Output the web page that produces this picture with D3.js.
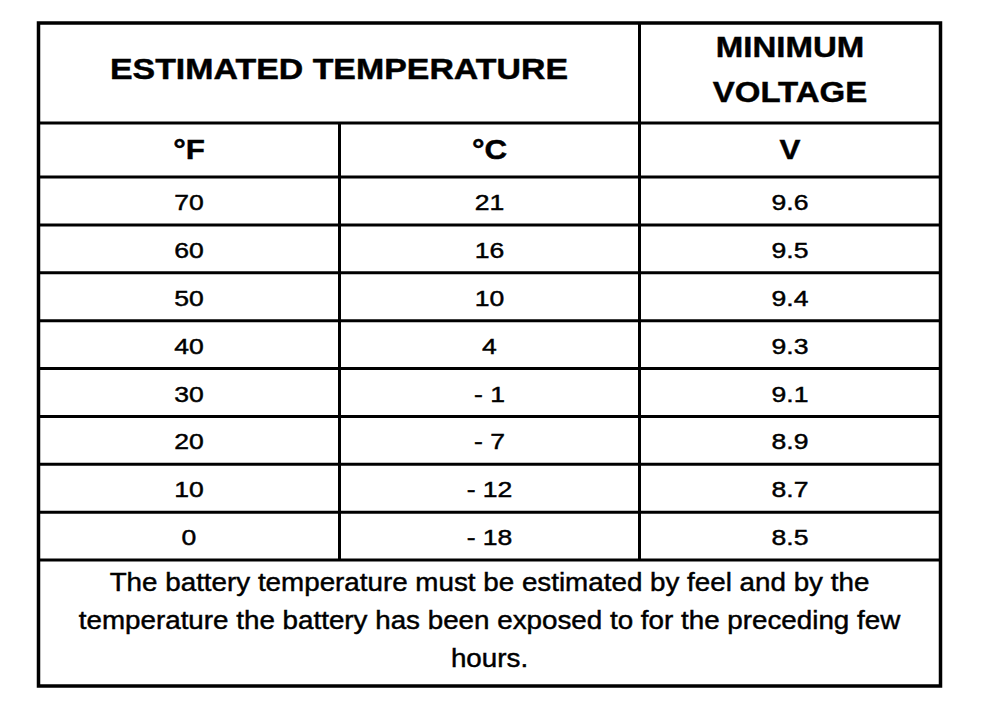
<!DOCTYPE html>
<html>
<head>
<meta charset="utf-8">
<script src="https://cdn.jsdelivr.net/npm/d3@7.9.0/dist/d3.min.js"></script>
<style>
  html, body { margin: 0; padding: 0; background: #fff; }
  svg { display: block; }
  text { font-family: "Liberation Sans", Arial, sans-serif; fill: #000; stroke: #000; stroke-width: 0.45; }
</style>
</head>
<body>
<svg id="chart" width="992" height="714"></svg>
<script>
// table content
const headerTop = ['ESTIMATED TEMPERATURE', 'MINIMUM VOLTAGE'];
const unitLabels = ['°F', '°C', 'V'];
const fahrenheit = ['70', '60', '50', '40', '30', '20', '10', '0'];
const celsius = ['21', '16', '10', '4', '- 1', '- 7', '- 12', '- 18'];
const voltage = ['9.6', '9.5', '9.4', '9.3', '9.1', '8.9', '8.7', '8.5'];
const footnote = [
  'The battery temperature must be estimated by feel and by the',
  'temperature the battery has been exposed to for the preceding few',
  'hours.'
];

const svg = d3.select('#chart');

// layout of the grid
const gridLeft = 38.5, gridRight = 940.5;
const colEdges = [gridLeft, 339.5, 639.5, gridRight];
const gridTop = 23, headBottom = 123, unitBottom = 177, dataBottom = 560, gridBottom = 686;

const rowY = d3.scaleLinear().domain([0, fahrenheit.length]).range([unitBottom, dataBottom]);
const colMid = i => (colEdges[i] + colEdges[i + 1]) / 2;

const lineW = 3;
const g = svg.append('g');

// horizontal rules
const hRules = [headBottom, unitBottom];
d3.range(1, fahrenheit.length + 1).forEach(i => hRules.push(rowY(i)));
g.selectAll('line.h').data(hRules).join('line')
  .attr('class', 'h')
  .attr('x1', gridLeft).attr('x2', gridRight)
  .attr('y1', d => d).attr('y2', d => d)
  .attr('stroke', '#000').attr('stroke-width', lineW);

// vertical rules
g.append('line') // °F | °C divider, below header only
  .attr('x1', colEdges[1]).attr('x2', colEdges[1])
  .attr('y1', headBottom).attr('y2', dataBottom)
  .attr('stroke', '#000').attr('stroke-width', lineW);
g.append('line') // temperature | voltage divider
  .attr('x1', colEdges[2]).attr('x2', colEdges[2])
  .attr('y1', gridTop).attr('y2', dataBottom)
  .attr('stroke', '#000').attr('stroke-width', lineW);

// outer border
g.append('rect')
  .attr('x', gridLeft).attr('y', gridTop)
  .attr('width', gridRight - gridLeft).attr('height', gridBottom - gridTop)
  .attr('fill', 'none').attr('stroke', '#000').attr('stroke-width', 3.5);

// text helper: centered, slightly stretched horizontally like the scan
function label(txt, cx, baseline, size, weight, sx) {
  svg.append('text')
    .attr('transform', `translate(${cx},${baseline}) scale(${sx},1)`)
    .attr('text-anchor', 'middle')
    .attr('font-size', size)
    .attr('font-weight', weight)
    .text(txt);
}

// header
label(headerTop[0], (colEdges[0] + colEdges[2]) / 2, 79, 30, 'bold', 1.13);
const volt = headerTop[1].split(' ');
label(volt[0], colMid(2), 57, 30, 'bold', 1.1);
label(volt[1], colMid(2), 102, 30, 'bold', 1.1);

// units row
unitLabels.forEach((u, i) => label(u, colMid(i), 159, 28, 'bold', 1.12));

// data rows
[fahrenheit, celsius, voltage].forEach((col, ci) => {
  col.forEach((v, ri) => label(v, colMid(ci), rowY(ri) + 33, 22.5, 'normal', 1.18));
});

// footnote
footnote.forEach((t, i) => label(t, (gridLeft + gridRight) / 2, 591 + i * 38, 25.5, 'normal', 1.09));
</script>
</body>
</html>
